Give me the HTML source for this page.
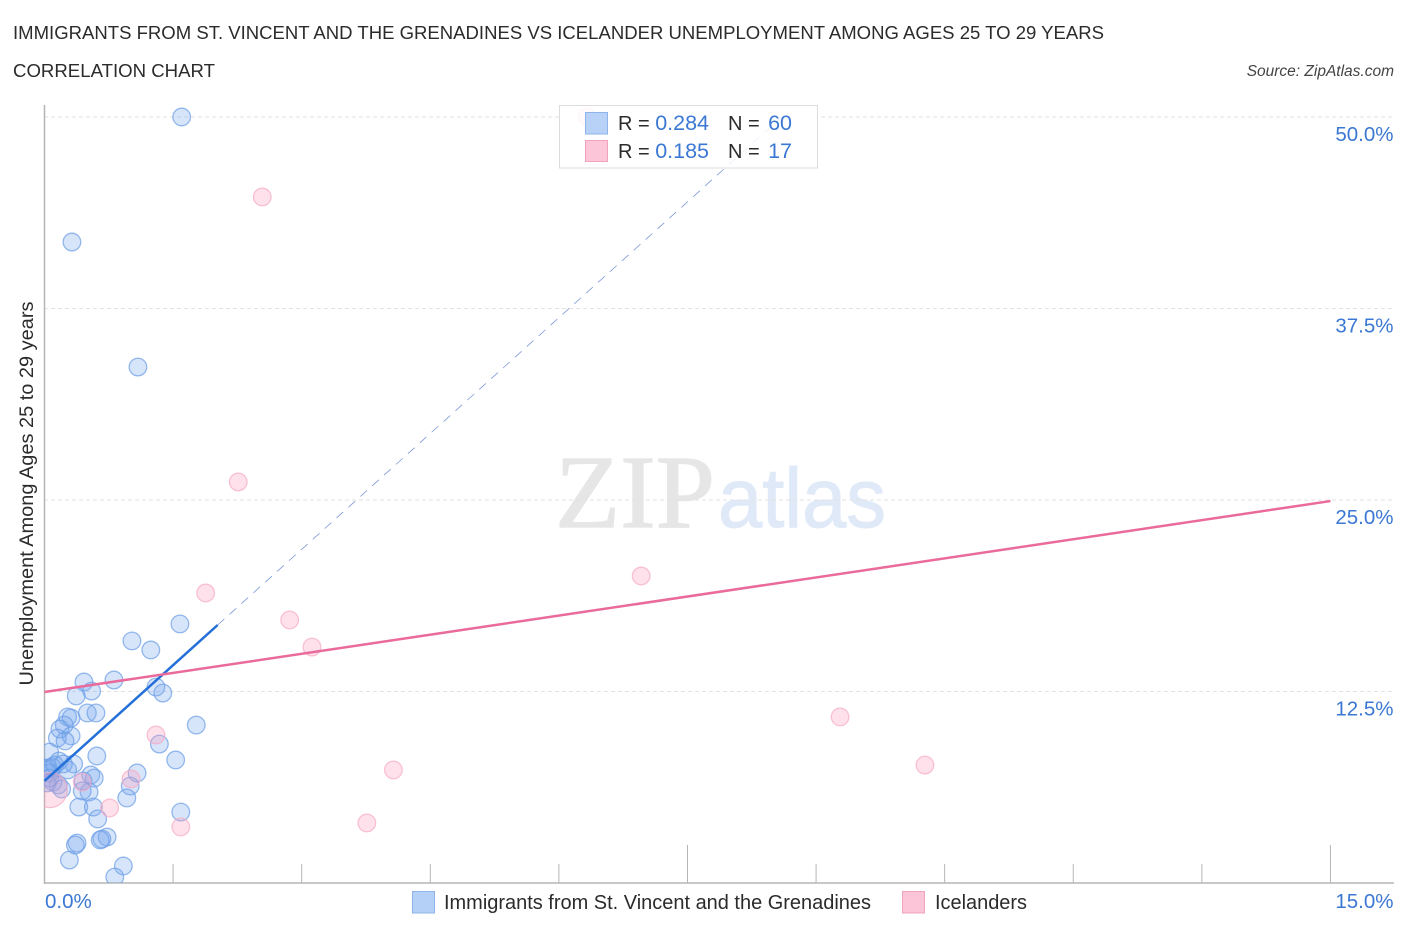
<!DOCTYPE html>
<html lang="en">
<head>
<meta charset="utf-8">
<title>Correlation Chart</title>
<style>
html,body{margin:0;padding:0;background:#fff;}
svg{display:block;font-family:"Liberation Sans",sans-serif;}
</style>
</head>
<body>
<svg id="chart" xmlns="http://www.w3.org/2000/svg" width="1406" height="930" viewBox="0 0 1406 930">
  <defs>
    <clipPath id="plot-clip"><rect x="44" y="100" width="1350" height="783"/></clipPath>
  </defs>
  <rect x="0" y="0" width="1406" height="930" fill="#fff"/>
  <text x="13" y="39" font-size="18.5" fill="#2b2b2b" textLength="1091" lengthAdjust="spacingAndGlyphs">IMMIGRANTS FROM ST. VINCENT AND THE GRENADINES VS ICELANDER UNEMPLOYMENT AMONG AGES 25 TO 29 YEARS</text>
  <text x="13" y="77" font-size="18.5" fill="#2b2b2b" textLength="202" lengthAdjust="spacingAndGlyphs">CORRELATION CHART</text>
  <text x="1394" y="76" font-size="15.5" font-style="italic" fill="#444" text-anchor="end">Source: ZipAtlas.com</text>

  <g>
    <text x="555" y="527" font-family="'Liberation Serif',serif" font-size="104" stroke="#e6e6e6" stroke-width="1.2" fill="#e6e6e6" textLength="160" lengthAdjust="spacingAndGlyphs">ZIP</text>
    <text x="718" y="527" font-size="84" stroke="#dfe9f8" stroke-width="1" fill="#dfe9f8" textLength="168" lengthAdjust="spacingAndGlyphs">atlas</text>
  </g>

  <g id="grid"></g>
  <g id="axes"></g>
  <g id="blue-points" clip-path="url(#plot-clip)"></g>
  <g id="pink-points" clip-path="url(#plot-clip)"></g>
  <g id="trends"></g>
  <g id="ylabels"></g>
  <g id="xlabels"></g>

  <text transform="translate(33,493.5) rotate(-90)" font-size="19" fill="#2b2b2b" text-anchor="middle" textLength="384" lengthAdjust="spacingAndGlyphs">Unemployment Among Ages 25 to 29 years</text>

  <g>
    <rect x="559.5" y="105.5" width="258" height="62.5" fill="#fff" fill-opacity="0.86" stroke="#dcdcdc" stroke-width="1"/>
    <rect x="585.5" y="112.5" width="22" height="21.5" fill="#b4d0f7" fill-opacity="0.95" stroke="#8fb4ea"/>
    <rect x="585.5" y="140.5" width="22" height="21" fill="#fcc5d8" stroke="#f0a3bf"/>
    <text x="618" y="130" font-size="20" fill="#2b2b2b">R =</text>
    <text x="709" y="130" font-size="21.5" fill="#3b78d4" text-anchor="end">0.284</text>
    <text x="728" y="130" font-size="20" fill="#2b2b2b">N =</text>
    <text x="792" y="130" font-size="21.5" fill="#3b78d4" text-anchor="end">60</text>
    <text x="618" y="158" font-size="20" fill="#2b2b2b">R =</text>
    <text x="709" y="158" font-size="21.5" fill="#3b78d4" text-anchor="end">0.185</text>
    <text x="728" y="158" font-size="20" fill="#2b2b2b">N =</text>
    <text x="792" y="158" font-size="21.5" fill="#3b78d4" text-anchor="end">17</text>
  </g>

  <g>
    <rect x="412.5" y="891.5" width="22" height="21.5" fill="#b4d0f7" stroke="#8fb4ea"/>
    <text x="444" y="909" font-size="20" fill="#2b2b2b" textLength="427" lengthAdjust="spacingAndGlyphs">Immigrants from St. Vincent and the Grenadines</text>
    <rect x="902.5" y="891.5" width="22" height="21.5" fill="#fcc5d8" stroke="#f0a3bf"/>
    <text x="935" y="909" font-size="20" fill="#2b2b2b" textLength="92" lengthAdjust="spacingAndGlyphs">Icelanders</text>
  </g>
</svg>
<script>
const blueX = [1.60,0.32,1.09,1.58,1.02,1.24,0.46,0.81,0.55,0.37,1.30,1.38,0.50,0.60,0.27,0.31,0.23,0.18,1.77,0.31,0.15,0.24,1.34,1.53,0.61,0.06,0.17,0.34,0.09,0.22,0.27,0.06,0.04,1.08,0.54,0.58,0.45,0.10,0.16,0.20,1.00,0.52,0.44,0.96,0.40,0.57,0.62,1.59,0.73,0.67,0.65,0.38,0.36,0.29,0.92,0.82,0.02,0.06,0.12,0.03];
const blueY = [50.00,41.84,33.68,16.91,15.80,15.21,13.12,13.25,12.53,12.21,12.79,12.40,11.10,11.10,10.84,10.77,10.31,10.05,10.31,9.60,9.46,9.27,9.07,8.03,8.29,8.55,7.96,7.77,7.57,7.77,7.38,7.18,7.51,7.18,7.05,6.85,6.66,6.59,6.40,6.14,6.33,5.94,6.01,5.55,4.96,4.96,4.18,4.63,3.00,2.87,2.81,2.61,2.48,1.50,1.11,0.39,7.38,6.85,7.70,6.53];
const pinkX = [6.33,2.54,2.26,6.96,1.88,2.86,3.12,9.28,10.27,4.07,3.76,1.59,1.30,1.01,0.76,0.44,0.06];
const pinkY = [50.00,44.78,26.18,20.04,18.93,17.17,15.40,10.84,7.70,7.38,3.92,3.66,9.66,6.79,4.90,6.59,6.07];
const pinkWeight = [1,1,1,1,1,1,1,1,1,1,1,1,1,1,1,1,4];
const blueTrendSolidX = [0,2.02];
const blueTrendDashedX = [2.02,8.6];
const blueTrendIntercept = 6.66;
const blueTrendSlope = 5.04;
const pinkTrendX = [0,15];
const pinkTrendY = [12.47,24.93];
const yTicks = [12.5,25,37.5,50];
const yTickLabels = ['12.5%','25.0%','37.5%','50.0%'];
const xTicks = [0,1.5,3,4.5,6,7.5,9,10.5,12,13.5,15];
const xMajorTicks = [7.5,15];
const xEndLabels = ['0.0%','15.0%'];

const NS = 'http://www.w3.org/2000/svg';
function sx(v){return 44.5 + v*85.73;}
function sy(v){return 883 - v*15.32;}
function make(parent,tag,attrs){
  const el = document.createElementNS(NS,tag);
  for(const k in attrs){el.setAttribute(k,attrs[k]);}
  parent.appendChild(el);
  return el;
}
const grid = document.getElementById('grid');
yTicks.forEach(function(t){
  const ln = make(grid,'line',{x1:44,x2:1394,y1:sy(t),y2:sy(t),stroke:'#e2e2e2','stroke-width':1,'stroke-dasharray':'4 3'});
  
  
});
const axes = document.getElementById('axes');
const yAxis = make(axes,'line',{x1:44.5,x2:44.5,y1:105,y2:884,stroke:'#b5b5b5','stroke-width':1.5});


const xAxis = make(axes,'line',{x1:44,x2:1394,y1:883,y2:883,stroke:'#b5b5b5','stroke-width':1.5});


xTicks.forEach(function(t){
  if(t===0){return;}
  const top = xMajorTicks.indexOf(t)>=0 ? 845 : 864;
  const tk = make(axes,'line',{x1:sx(t),x2:sx(t),y1:top,y2:883,stroke:'#b5b5b5','stroke-width':1});
  
  
});
const bluePts = document.getElementById('blue-points');
blueX.forEach(function(x,i){
  const c = make(bluePts,'circle',{cx:sx(x),cy:sy(blueY[i]),r:8.8,fill:'#7aaaf0','fill-opacity':0.3,stroke:'#6a9de6','stroke-opacity':0.7,'stroke-width':1.3});
  
  
});
const pinkPts = document.getElementById('pink-points');
pinkX.forEach(function(x,i){
  const c = make(pinkPts,'circle',{cx:sx(x),cy:sy(pinkY[i]),r:8.8*Math.sqrt(pinkWeight[i]),fill:'#fb9dbd','fill-opacity':0.3,stroke:'#f7a9c4','stroke-opacity':0.7,'stroke-width':1.3});
  
  
});
const trends = document.getElementById('trends');
function blueTrend(x){return blueTrendIntercept + blueTrendSlope*x;}
const dashed = make(trends,'line',{x1:sx(blueTrendDashedX[0]),y1:sy(blueTrend(blueTrendDashedX[0])),x2:sx(blueTrendDashedX[1]),y2:sy(blueTrend(blueTrendDashedX[1])),stroke:'#7b98d8','stroke-width':0.8,'stroke-dasharray':'9 7'});


const solid = make(trends,'line',{x1:sx(blueTrendSolidX[0]),y1:sy(blueTrend(blueTrendSolidX[0])),x2:sx(blueTrendSolidX[1]),y2:sy(blueTrend(blueTrendSolidX[1])),stroke:'#2470d8','stroke-width':2.5});


const pinkLine = make(trends,'line',{x1:sx(pinkTrendX[0]),y1:sy(pinkTrendY[0]),x2:sx(pinkTrendX[1]),y2:sy(pinkTrendY[1]),stroke:'#e96a9b','stroke-width':2.5});


const ylabels = document.getElementById('ylabels');
yTicks.forEach(function(t,i){
  const tx = make(ylabels,'text',{x:1393.5,y:sy(t)+24,'font-size':20.5,fill:'#3b78d4','text-anchor':'end'});
  tx.textContent = yTickLabels[i];
  
  
});
const xlabels = document.getElementById('xlabels');
const x0 = make(xlabels,'text',{x:sx(0)+0.5,y:908,'font-size':20.5,fill:'#3b78d4'});
x0.textContent = xEndLabels[0];


const x1 = make(xlabels,'text',{x:1393.5,y:908,'font-size':20.5,fill:'#3b78d4','text-anchor':'end'});
x1.textContent = xEndLabels[1];


</script>
</body>
</html>
